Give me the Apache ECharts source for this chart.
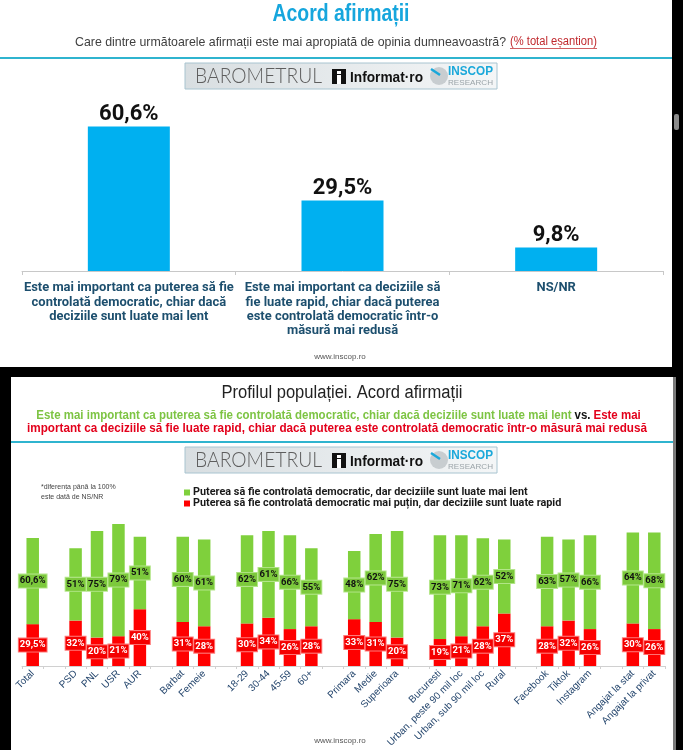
<!DOCTYPE html>
<html>
<head>
<meta charset="utf-8">
<title>Acord afirmații</title>
<script src="https://cdn.jsdelivr.net/npm/echarts@6/dist/echarts.min.js"></script>
<style>
  html, body { margin: 0; padding: 0; background: #000; }
  #box { width: 683px; height: 750px; }
</style>
</head>
<body>
<div id="box"></div>
<script>
// top chart: total sample
const totalCats = [
  'Este mai important ca puterea să fie\ncontrolată democratic, chiar dacă\ndeciziile sunt luate mai lent',
  'Este mai important ca deciziile să\nfie luate rapid, chiar dacă puterea\neste controlată democratic într-o\nmăsură mai redusă',
  'NS/NR'
];
const totalValues = [60.6, 29.5, 9.8];

// bottom chart: profile, empty names are the gaps between groups
const profileCats = ['Total', '', 'PSD', 'PNL', 'USR', 'AUR', '', 'Barbat', 'Femeie', '',
  '18-29', '30-44', '45-59', '60+', '', 'Primara', 'Medie', 'Superioara', '',
  'Bucuresti', 'Urban, peste 90 mil loc', 'Urban, sub 90 mil loc', 'Rural', '',
  'Facebook', 'Tiktok', 'Instagram', '', 'Angajat la stat', 'Angajat la privat'];
const lentValues = [60.6, null, 51, 75, 79, 51, null, 60, 61, null, 62, 61, 66, 55, null,
  48, 62, 75, null, 73, 71, 62, 52, null, 63, 57, 66, null, 64, 68];
const rapidValues = [29.5, null, 32, 20, 21, 40, null, 31, 28, null, 30, 34, 26, 28, null,
  33, 31, 20, null, 19, 21, 28, 37, null, 28, 32, 26, null, 30, 26];

const lentName = 'Puterea să fie controlată democratic, dar deciziile sunt luate mai lent';
const rapidName = 'Puterea să fie controlată democratic mai puțin, dar deciziile sunt luate rapid';

const SANS = "'Liberation Sans', Arial, sans-serif";
const ROBO = "Roboto, 'Liberation Sans', sans-serif";

const pct = v => (Number.isInteger(v) ? String(v) : v.toFixed(1).replace('.', ',')) + '%';

// the slides use a narrow font, so texts are squeezed to the width they have there
const ctx = document.createElement('canvas').getContext('2d');
function textW(str, font) { ctx.font = font; return ctx.measureText(str).width; }
function fitText(str, x, y, width, size, weight, color, family, align) {
  family = family || SANS;
  const font = (weight || 'normal') + ' ' + size + 'px ' + family;
  return {
    type: 'text', x: x, y: y, scaleX: width / textW(str, font),
    style: { text: str, fontFamily: family, fontSize: size, fontWeight: weight || 'normal', fill: color, align: align || 'center', verticalAlign: 'middle' }
  };
}
// font size that gives a line its width in the reference
const sizeFor = (str, weight, family, width) => 20 * width / textW(str, weight + ' 20px ' + family);
const topLabelSize = sizeFor('Este mai important ca puterea să fie', 'bold', ROBO, 210);
const legendSize = sizeFor(lentName, 'bold', ROBO, 335);

function banner(x, y) {
  return {
    type: 'group', x: x, y: y,
    children: [
      { type: 'rect', shape: { x: 0, y: 0, width: 312, height: 26 },
        style: { fill: new echarts.graphic.LinearGradient(0, 0, 1, 0, [
          { offset: 0, color: '#D8DEE1' }, { offset: 1, color: '#F4F6F7' }]), stroke: '#A8C4D0', lineWidth: 1 } },
      fitText('BAROMETRUL', 10, 13.5, 127, 21, 300, '#5e5e5e', 'Lato', 'left'),
      { type: 'rect', shape: { x: 147, y: 6, width: 14, height: 15 }, style: { fill: '#111' } },
      { type: 'rect', shape: { x: 152, y: 8, width: 4, height: 3 }, style: { fill: '#fff' } },
      { type: 'rect', shape: { x: 152, y: 12, width: 4, height: 9 }, style: { fill: '#fff' } },
      fitText('Informat·ro', 165, 15, 73, 14, 'bold', '#111', SANS, 'left'),
      { type: 'circle', shape: { cx: 254, cy: 13, r: 9 }, style: { fill: '#C8CDD0' } },
      { type: 'line', shape: { x1: 246, y1: 6, x2: 255, y2: 12 }, style: { stroke: '#1AA8DA', lineWidth: 2.5 } },
      fitText('INSCOP', 263, 9, 45, 12, 'bold', '#1AA8DA', SANS, 'left'),
      fitText('RESEARCH', 263, 19.5, 45, 8, 'normal', '#9BA4A9', SANS, 'left')
    ]
  };
}

const subLine1 = '{g|Este mai important ca puterea să fie controlată democratic, chiar dacă deciziile sunt luate mai lent} {b|vs.} {r|Este mai}';
const subLine1Plain = 'Este mai important ca puterea să fie controlată democratic, chiar dacă deciziile sunt luate mai lent vs. Este mai';
const subLine2 = 'important ca deciziile să fie luate rapid, chiar dacă puterea este controlată democratic într-o măsură mai redusă';
const subFont = 'bold 13px ' + SANS;

const chart = echarts.init(document.getElementById('box'));

const option = {
  backgroundColor: '#000',
  animation: false,
  graphic: [
    // panels
    { type: 'rect', z: -10, shape: { x: 0, y: 0, width: 672, height: 367 }, style: { fill: '#fff' } },
    { type: 'rect', z: -10, shape: { x: 674, y: 114, width: 5, height: 16, r: 2 }, style: { fill: '#8a8a8a' } },
    { type: 'rect', z: -10, shape: { x: 11, y: 377, width: 662, height: 373 }, style: { fill: '#fff' } },
    { type: 'rect', z: -10, shape: { x: 673, y: 377, width: 3, height: 373 }, style: { fill: '#7a7a7a' } },
    // separators
    { type: 'rect', shape: { x: 0, y: 57, width: 672, height: 2 }, style: { fill: '#2FB4CF' } },
    { type: 'rect', shape: { x: 11, y: 441, width: 662, height: 2 }, style: { fill: '#2FB4CF' } },
    // top panel texts
    fitText('Acord afirmații', 341, 15, 137, 23, 'bold', '#16A6DD'),
    fitText('Care dintre următoarele afirmații este mai apropiată de opinia dumneavoastră?', 290.5, 42, 431, 13, 'normal', '#404040'),
    fitText('(% total eșantion)', 553.5, 42, 87, 12, 'normal', '#C0282D'),
    { type: 'rect', shape: { x: 510, y: 48, width: 87, height: 0.8 }, style: { fill: '#C0282D' } },
    banner(185, 63),
    { type: 'text', x: 340, y: 357, style: { text: 'www.inscop.ro', fontFamily: SANS, fontSize: 8, fill: '#555', align: 'center', verticalAlign: 'middle' } },

    // bottom panel texts
    fitText('Profilul populației. Acord afirmații', 342, 393, 241, 18, 'normal', '#222'),
    { type: 'text', x: 338.5, y: 415, scaleX: 605 / textW(subLine1Plain, subFont), style: {
      text: subLine1, align: 'center', verticalAlign: 'middle',
      rich: {
        g: { fontFamily: SANS, fontWeight: 'bold', fontSize: 13, fill: '#7DC443' },
        b: { fontFamily: SANS, fontWeight: 'bold', fontSize: 13, fill: '#111' },
        r: { fontFamily: SANS, fontWeight: 'bold', fontSize: 13, fill: '#E3001B' }
      } } },
    fitText(subLine2, 337, 428, 620, 13, 'bold', '#E3001B'),
    banner(185, 447),
    { type: 'text', x: 41, y: 492, style: { text: '*diferența până la 100%\neste dată de NS/NR', fontFamily: SANS, fontSize: 7, lineHeight: 10, fill: '#444', verticalAlign: 'middle' } },
    { type: 'text', x: 340, y: 741, style: { text: 'www.inscop.ro', fontFamily: SANS, fontSize: 8, fill: '#555', align: 'center', verticalAlign: 'middle' } }
  ],
  legend: {
    data: [lentName, rapidName],
    orient: 'vertical',
    left: 179, top: 482,
    itemWidth: 6, itemHeight: 6, itemGap: 0,
    icon: 'rect',
    textStyle: { fontFamily: ROBO, fontWeight: 'bold', fontSize: legendSize, lineHeight: 11, color: '#1a1a1a', padding: [0, 0, 0, -2] },
    selectedMode: false
  },
  grid: [
    { left: 22, width: 641, top: 104, height: 167 },
    { left: 22, width: 643, top: 524, height: 146 }
  ],
  xAxis: [
    {
      type: 'category', gridIndex: 0, data: totalCats,
      axisLine: { lineStyle: { color: '#C8C8C8' } },
      axisTick: { show: true, length: 4, lineStyle: { color: '#C8C8C8' } },
      axisLabel: { interval: 0, margin: 10, fontFamily: ROBO, fontWeight: 'bold', fontSize: topLabelSize, lineHeight: 14.3, color: '#1D4F6E' }
    },
    {
      type: 'category', gridIndex: 1, data: profileCats,
      axisLine: { lineStyle: { color: '#D0D0D0' } },
      axisTick: { show: true, interval: 0, length: 3, lineStyle: { color: '#D0D0D0' } },
      axisLabel: { interval: 0, rotate: 45, margin: 6, fontFamily: SANS, fontSize: 10, color: '#26476E' }
    }
  ],
  yAxis: [
    { type: 'value', gridIndex: 0, min: 0, max: 70, show: false },
    { type: 'value', gridIndex: 1, min: 0, max: 100, show: false }
  ],
  series: [
    {
      type: 'bar', xAxisIndex: 0, yAxisIndex: 0, data: totalValues, barWidth: 82,
      itemStyle: { color: '#00B0F0' },
      label: { show: true, position: 'top', distance: 1, formatter: p => pct(p.value),
        fontFamily: ROBO, fontWeight: 'bold', fontSize: 22, color: '#111' }
    },
    {
      name: rapidName, type: 'bar', stack: 'p', xAxisIndex: 1, yAxisIndex: 1, data: rapidValues, barWidth: 12.5,
      itemStyle: { color: '#FF0000' },
      label: { show: true, position: 'inside', formatter: p => pct(p.value),
        fontFamily: ROBO, fontWeight: 'bold', fontSize: 9.5, color: '#fff',
        backgroundColor: '#F40000', borderColor: '#FF7A7A', borderWidth: 1, padding: [2, 1, 1, 1] }
    },
    {
      name: lentName, type: 'bar', stack: 'p', xAxisIndex: 1, yAxisIndex: 1, data: lentValues, barWidth: 12.5,
      itemStyle: { color: '#7FD03C' },
      label: { show: true, position: 'inside', formatter: p => pct(p.value),
        fontFamily: ROBO, fontWeight: 'bold', fontSize: 9.5, color: '#111',
        backgroundColor: '#7CC93C', borderColor: '#B4E68A', borderWidth: 1, padding: [2, 1, 1, 1] }
    }
  ]
};

chart.setOption(option);
window.addEventListener('resize', () => chart.resize());
</script>
</body>
</html>
